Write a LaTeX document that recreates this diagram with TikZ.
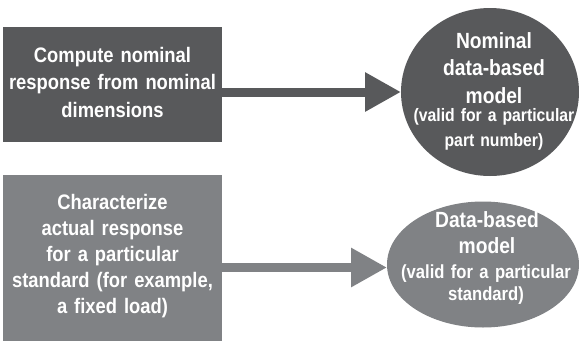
\documentclass[tikz,border=0pt]{standalone}
\usepackage{fontspec}
\setmainfont{Liberation Sans}[FakeStretch=0.875]
\usetikzlibrary{arrows.meta,shapes.geometric}
\definecolor{darkg}{HTML}{58595B}
\definecolor{lightg}{HTML}{808285}
\begin{document}
\begin{tikzpicture}[x=1pt,y=-1pt,
  shapebox/.style={rectangle,draw=none,inner sep=0pt,outer sep=0pt},
  shapeell/.style={ellipse,draw=none,inner sep=0pt,outer sep=0pt},
  txt/.style={text=white,align=center,text width=240pt,inner sep=0pt,anchor=base},
  arr/.style={line width=9pt,-{Triangle[length=36pt,width=37pt]}}]
\useasboundingbox (0,0) rectangle (579,341);
\fill[white] (0,0) rectangle (579,341);
% shapes
\node[shapebox,fill=darkg,minimum width=219pt,minimum height=115pt] (box1) at (112.5,84.5) {};
\node[shapebox,fill=lightg,minimum width=219pt,minimum height=166pt] (box2) at (112.5,258) {};
\node[shapeell,fill=darkg,minimum width=178pt,minimum height=168pt] (circ1) at (490,92) {};
\node[shapeell,fill=lightg,minimum width=192pt,minimum height=126pt] (ell2) at (483,264.5) {};
% texts
\node[txt,font=\bfseries\fontsize{21}{27.5}\selectfont] (t1) at (112.5,62) {Compute nominal\\response from nominal\\dimensions};
\node[txt,font=\bfseries\fontsize{21}{26}\selectfont] (t2) at (112.5,209) {Characterize\\actual response\\for a particular\\standard (for example,\\a fixed load)};
\node[txt,font=\bfseries\fontsize{22}{27.5}\selectfont] (t3) at (494,48) {Nominal\\data-based\\model};
\node[txt,font=\bfseries\fontsize{18}{25}\selectfont] (t3b) at (494,121.5) {(valid for a particular\\part number)};
\node[txt,font=\bfseries\fontsize{22}{26}\selectfont] (t4) at (487,227) {Data-based\\model};
\node[txt,font=\bfseries\fontsize{19}{22}\selectfont] (t4b) at (486,278) {(valid for a particular\\standard)};
% connectors
\draw[arr,darkg] (box1.east |- circ1.west) -- (circ1.west);
\draw[arr,lightg] ([yshift=-3pt]box2.east |- ell2.west) -- ([yshift=-3pt]ell2.west);
\end{tikzpicture}
\end{document}
